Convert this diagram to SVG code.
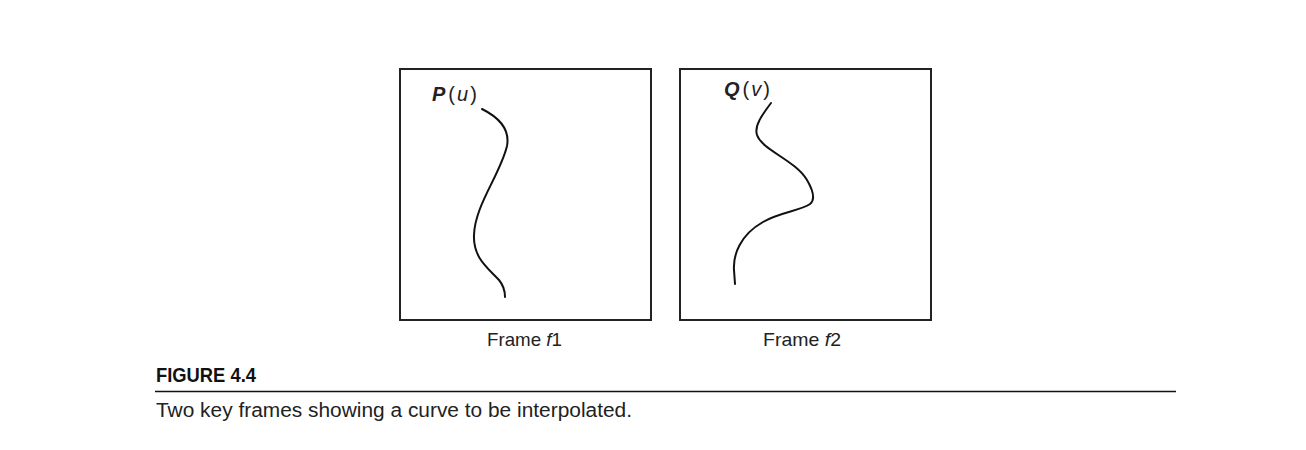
<svg xmlns="http://www.w3.org/2000/svg" width="1306" height="450" viewBox="0 0 1306 450">
<style>
.frame{fill:none;stroke:#222;stroke-width:2}
.curve{fill:none;stroke:#111;stroke-width:2;stroke-linecap:round}
.lbl{font-family:"Liberation Sans",Arial,sans-serif;font-size:20px;fill:#222}
.fl{font-family:"Liberation Sans",Arial,sans-serif;font-size:19px;fill:#222}
.cap{font-family:"Liberation Sans",Arial,sans-serif;font-size:20px;fill:#222}
.fig{font-family:"Liberation Sans",Arial,sans-serif;font-size:21px;font-weight:bold;fill:#111}
</style>
<rect width="1306" height="450" fill="#fff"/>
<g id="frame1">
<rect class="frame" x="400" y="69" width="251" height="251"/>
<text class="lbl" x="432" y="101"><tspan font-weight="bold" font-style="italic">P</tspan><tspan dx="3">(</tspan><tspan font-style="italic" dx="2">u</tspan><tspan dx="2">)</tspan></text>
<path class="curve" d="M482,109 C500,118 510,130 507,146 C500,175 475,205 474,235 C473,258 488,268 499,280 C504,286 505,291 505,297"/>
<text class="fl" x="487" y="346" textLength="75" lengthAdjust="spacingAndGlyphs">Frame <tspan font-style="italic">f</tspan>1</text>
</g>
<g id="frame2">
<rect class="frame" x="680" y="69" width="251" height="251"/>
<text class="lbl" x="724" y="96"><tspan font-weight="bold" font-style="italic">Q</tspan><tspan dx="3">(</tspan><tspan font-style="italic" dx="2">v</tspan><tspan dx="2">)</tspan></text>
<path class="curve" d="M771,103 C762,115 754,126 757,135 C762,150 795,160 807,180 C814,192 815,200 810,204 C800,211 780,212 763,222 C740,235 733,255 734,270 L735,284"/>
<text class="fl" x="763" y="346" textLength="78" lengthAdjust="spacingAndGlyphs">Frame <tspan font-style="italic">f</tspan>2</text>
</g>
<g id="caption">
<text class="fig" x="156" y="382" textLength="100" lengthAdjust="spacingAndGlyphs">FIGURE 4.4</text>
<line x1="155" y1="391.5" x2="1176" y2="391.5" stroke="#111" stroke-width="1.3"/>
<text class="cap" x="156" y="417" textLength="476" lengthAdjust="spacingAndGlyphs">Two key frames showing a curve to be interpolated.</text>
</g>
</svg>
